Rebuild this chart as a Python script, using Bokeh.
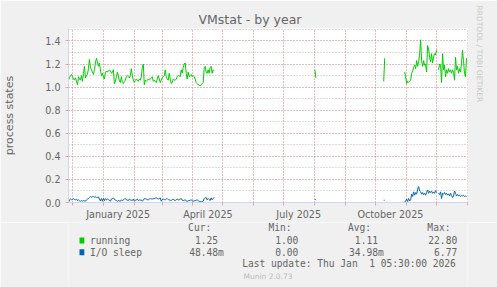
import numpy as np
import pandas as pd
from bokeh.plotting import figure
from bokeh.layouts import column
from bokeh.models import (Range1d, FixedTicker, Grid, SingleIntervalTicker, ColumnDataSource,
                          Title, DatetimeTickFormatter, PrintfTickFormatter)
from bokeh.core.properties import value
from bokeh.embed import file_html
from bokeh.resources import INLINE

nan = None

title = "VMstat - by year"
y_label = "process states"
series_names = ["running", "I/O sleep"]
series_colors = ["#00CC00", "#0066B3"]
end_time = "2026-01-01 05:30"
span_days = 400
x_label_months = ["2025-01-01", "2025-04-01", "2025-07-01", "2025-10-01"]

seg_starts = ["2024-11-27 05:30", "2025-08-01 05:30", "2025-10-09 05:30", "2025-10-30 05:30"]

running_seg1 = [1.06, 1.08, 1.10, 1.11, 1.09, 1.07, 1.06, 1.08, 1.05, 1.02,
                1.09, 1.07, 1.06, 1.10, 1.05, 1.12, 1.18, 1.08, 1.10, 1.11,
                1.16, 1.24, 1.17, 1.15, 1.13, 1.11, 1.15, 1.21, 1.25, 1.22,
                1.18, 1.21, 1.15, 1.10, 1.12, 1.09, 1.07, 1.13, 1.14, 1.13,
                1.14, 1.15, 1.14, 1.12, 1.13, 1.15, 1.03, 1.05, 1.09, 1.13,
                1.10, 1.05, 1.04, 1.09, 1.04, 1.03, 1.05, 1.06, 1.09, 1.10,
                1.09, 1.08, 1.10, 1.16, 1.10, 1.06, 1.04, 1.06, 1.07, 1.06,
                1.05, 1.07, 1.06, 1.09, 1.17, 1.20, 1.02, 1.06, 1.05, 1.06,
                1.07, 1.06, 1.07, 1.08, 1.09, 1.05, 1.06, 1.05, 1.04, 1.07,
                1.10, 1.07, 1.04, 1.06, 1.08, 1.09, 1.10, 1.15, 1.09, 1.07,
                1.06, 1.12, 1.07, 1.03, 1.04, 1.07, 1.06, 1.06, 1.07, 1.09,
                1.10, 1.10, 1.09, 1.15, 1.12, 1.17, 1.20, 1.21, 1.12, 1.07,
                1.13, 1.09, 1.10, 1.11, 1.09, 1.10, 1.09, 1.07, 1.04, 1.03,
                1.02, 1.02, 1.01, 1.02, 1.03, 1.04, 1.16, 1.18, 1.13, 1.12,
                1.15, 1.12, 1.17, 1.18, 1.12, 1.15, 1.14]
running_seg2 = [1.15, 1.08]
running_seg3 = [1.05, 1.25]
running_seg4 = [1.13, 1.09, 1.03, 1.05, 1.04, 1.05, 1.06, 1.12, 1.14, 1.17,
                1.19, 1.16, 1.23, 1.18, 1.22, 1.28, 1.41, 1.23, 1.18, 1.23,
                1.19, 1.20, 1.13, 1.36, 1.33, 1.26, 1.22, 1.29, 1.21, 1.26,
                1.29, 1.28, 1.32, nan, 1.15, 1.20, 1.19, 1.04, 1.29, 1.15,
                1.19, 1.09, 1.15, 1.12, 1.16, 1.13, 1.15, 1.12, 1.15, 1.13,
                1.06, 1.26, 1.15, 1.18, 1.12, 1.16, 1.13, 1.21, 1.32, 1.23,
                1.12, 1.09, 1.25]

io_seg1 = [0.000, 0.023, 0.030, 0.025, 0.023, 0.034, 0.025, 0.023, 0.030, 0.017,
           0.023, 0.015, 0.011, 0.017, 0.011, 0.017, 0.014, 0.011, 0.023, 0.030,
           0.034, 0.043, 0.052, 0.046, 0.050, 0.052, 0.046, 0.049, 0.045, 0.043,
           0.049, 0.030, 0.014, 0.034, 0.011, 0.037, 0.017, 0.034, 0.023, 0.030,
           0.025, 0.020, 0.011, 0.030, 0.034, 0.040, 0.030, 0.020, 0.017, 0.011,
           0.017, 0.014, 0.011, 0.023, 0.017, 0.023, 0.030, 0.034, 0.023, 0.020,
           0.017, 0.030, 0.023, 0.020, 0.017, 0.030, 0.011, 0.020, 0.023, 0.030,
           0.017, 0.023, 0.020, 0.023, 0.011, 0.020, 0.034, 0.032, 0.030, 0.025,
           0.023, 0.030, 0.034, 0.032, 0.030, 0.032, 0.034, 0.037, 0.040, 0.035,
           0.030, 0.035, 0.040, 0.011, 0.025, 0.030, 0.025, 0.023, 0.030, 0.034,
           0.025, 0.023, 0.020, 0.017, 0.025, 0.030, 0.020, 0.017, 0.025, 0.030,
           0.023, 0.023, 0.030, 0.034, 0.020, 0.017, 0.020, 0.023, 0.015, 0.011,
           0.015, 0.017, 0.020, 0.023, 0.015, 0.011, 0.015, 0.017, 0.020, 0.023,
           0.015, 0.011, 0.008, 0.005, 0.008, 0.011, 0.034, 0.040, 0.043, 0.023,
           0.034, 0.025, 0.017, 0.040, 0.023, 0.034, 0.046]
io_seg2 = [0.030, 0.020]
io_seg3 = [0.020, 0.020]
io_seg4 = [0.000, 0.014, 0.029, 0.009, 0.034, 0.014, 0.023, 0.072, 0.052, 0.092,
           0.063, 0.086, 0.072, 0.115, 0.138, 0.100, 0.092, 0.072, 0.086, 0.069,
           0.080, 0.063, 0.086, 0.109, 0.080, 0.098, 0.086, 0.098, 0.080, 0.092,
           0.080, 0.103, 0.086, nan, 0.080, 0.069, 0.092, 0.034, 0.080, 0.072,
           0.086, 0.069, 0.080, 0.063, 0.075, 0.057, 0.080, 0.063, 0.043, 0.057,
           0.100, 0.080, 0.057, 0.069, 0.057, 0.063, 0.052, 0.063, 0.057, 0.063,
           0.052, 0.057, 0.048]

stat_headers = ["Cur:", "Min:", "Avg:", "Max:"]
running_stats = [(1.25, " "), (1.00, " "), (1.11, " "), (22.80, " ")]
io_stats = [(48.48, "m"), (0.00, " "), (34.98, "m"), (6.77, " ")]
last_update = "Last update: Thu Jan  1 05:30:00 2026"
munin_version = "Munin 2.0.73"
watermark = "RRDTOOL / TOBI OETIKER"

# ---------------------------------------------------------------------------
end = pd.Timestamp(end_time)
start = end - pd.Timedelta(days=span_days)
full_idx = pd.date_range(start, periods=span_days + 1, freq="D")


def build(segs):
    s = pd.Series(np.nan, index=full_idx)
    for st, vals in zip(seg_starts, segs):
        idx = pd.date_range(st, periods=len(vals), freq="D")
        s.loc[idx] = np.array(vals, dtype=float)
    return s.values


run = build([running_seg1, running_seg2, running_seg3, running_seg4])
io = build([io_seg1, io_seg2, io_seg3, io_seg4])
src = ColumnDataSource(dict(t=full_idx, run=run, io=io))

FONT = "#666666"
AX = "#CFD6F8"
MG = "#E07070"
GR = "#A0A0A0"
BG = "#F0F0F0"
LEFT, TOP, W, H = 67, 28, 400, 175
MAIN_H = 222

p = figure(width=497, height=MAIN_H, x_axis_type="datetime", output_backend="svg",
           toolbar_location=None, min_border_left=LEFT, min_border_right=497 - LEFT - W,
           min_border_top=TOP, min_border_bottom=MAIN_H - TOP - H,
           background_fill_color="white", border_fill_color=BG,
           outline_line_color=None,
           x_range=Range1d(start, end), y_range=Range1d(0, 1.508))

p.title.text = title
p.title.align = "left"
p.title.offset = 130
p.title.standoff = 3
p.title.text_font = "DejaVu Sans"
p.title.text_font_size = "12.5px"
p.title.text_font_style = "normal"
p.title.text_color = FONT


def ms(ts):
    return pd.Timestamp(ts).value / 1e6


month_ticks = [ms(t) for t in pd.date_range("2024-12-01", end, freq="MS")]
week_ticks = [ms(t) for t in pd.date_range("2024-11-24", end, freq="14D")]
label_ticks = [ms(pd.Timestamp(m) + pd.Timedelta(days=15)) for m in x_label_months]

# minor vertical grid (bi-weekly)
minor_grid = Grid(dimension=0, ticker=FixedTicker(ticks=week_ticks),
                  grid_line_color=GR, grid_line_alpha=0.7, grid_line_dash="1 2")
p.add_layout(minor_grid)
p.xgrid.ticker = FixedTicker(ticks=month_ticks)
p.xgrid.grid_line_color = MG
p.xgrid.grid_line_alpha = 0.55
p.xgrid.grid_line_dash = "1 2"

yt = SingleIntervalTicker(interval=0.2, num_minor_ticks=2)
p.yaxis.ticker = yt
p.ygrid.ticker = yt
p.ygrid.grid_line_color = MG
p.ygrid.grid_line_alpha = 0.55
p.ygrid.grid_line_dash = "1 2"
p.ygrid.minor_grid_line_color = GR
p.ygrid.minor_grid_line_alpha = 0.7
p.ygrid.minor_grid_line_dash = "1 2"

fmt = DatetimeTickFormatter()
for attr in ["microseconds", "milliseconds", "seconds", "minsec", "minutes",
             "hourmin", "hours", "days", "months", "years"]:
    setattr(fmt, attr, "%B %Y")
p.xaxis.ticker = FixedTicker(ticks=label_ticks, minor_ticks=month_ticks)
p.xaxis.formatter = fmt
p.xaxis.major_label_text_font = "DejaVu Sans"
p.xaxis.major_label_text_font_size = "9.6px"
p.xaxis.major_label_text_color = FONT
p.xaxis.major_label_standoff = 3
p.xaxis.major_tick_line_color = None
p.xaxis.major_tick_out = 0
p.xaxis.major_tick_in = 0
p.xaxis.minor_tick_line_color = MG
p.xaxis.minor_tick_line_alpha = 0.6
p.xaxis.minor_tick_out = 3
p.xaxis.minor_tick_in = 0
p.xaxis.axis_line_color = AX

p.yaxis.formatter = PrintfTickFormatter(format="%.1f")
p.yaxis.axis_line_color = AX
p.yaxis.major_tick_line_color = MG
p.yaxis.major_tick_line_alpha = 0.6
p.yaxis.major_tick_out = 3
p.yaxis.major_tick_in = 0
p.yaxis.minor_tick_line_color = None
p.yaxis.major_label_standoff = 4
p.yaxis.major_label_text_font = "DejaVu Sans"
p.yaxis.major_label_text_font_size = "9.6px"
p.yaxis.major_label_text_color = FONT
p.yaxis.axis_label = y_label
p.yaxis.axis_label_text_font = "DejaVu Sans"
p.yaxis.axis_label_text_font_size = "11px"
p.yaxis.axis_label_text_font_style = "normal"
p.yaxis.axis_label_text_color = FONT
p.yaxis.axis_label_standoff = 26

p.add_layout(Title(text=watermark, align="left", offset=-23, standoff=14,
                   text_font="DejaVu Sans", text_font_size="7.5px", text_font_style="normal",
                   text_color="#C8C8C8"), "right")

p.line("t", "run", source=src, line_color=series_colors[0], line_width=1)
p.line("t", "io", source=src, line_color=series_colors[1], line_width=1)

# ---------------------------------------------------------------------------
# legend / statistics strip (pixel coordinates of the whole image)
LEG_H = 287 - MAIN_H
leg = figure(width=497, height=LEG_H, output_backend="svg", toolbar_location=None,
             x_range=Range1d(0, 497), y_range=Range1d(287, MAIN_H),
             min_border=0, x_axis_location=None, y_axis_location=None,
             background_fill_color=BG, border_fill_color=BG, outline_line_color=None)
leg.xgrid.visible = False
leg.ygrid.visible = False

MONO = value("DejaVu Sans Mono")
col_x = [149, 249, 348, 447]
field_x = [143.2, 243.2, 342.3, 441]
rows_y = [240, 251.7]

tx, ty, tt = [], [], []
for h, x in zip(stat_headers, col_x):
    tx.append(x); ty.append(227.3); tt.append(h)
for name, stats, y in zip(series_names, [running_stats, io_stats], rows_y):
    tx.append(26.7); ty.append(y); tt.append(name)
    for (v, unit), x in zip(stats, field_x):
        tx.append(x); ty.append(y); tt.append(("%6.2f%s" % (v, unit)).replace(" ", "\u00a0"))
leg.text(x=tx, y=ty, text=tt, text_font=MONO, text_font_size="9.6px",
         text_color=FONT, text_align="left", text_baseline="middle")
leg.text(x=[482.5], y=[263.3], text=[last_update.replace(" ", "\u00a0")], text_font=MONO,
         text_font_size="9.6px", text_color=FONT, text_align="right", text_baseline="middle")
leg.text(x=[248.5], y=[276.3], text=[munin_version], text_font=value("DejaVu Sans"),
         text_font_size="7.5px", text_color="#BBBBBB", text_align="center", text_baseline="middle")
leg.rect(x=[16.7, 16.7], y=rows_y, width=6, height=6, fill_color=series_colors, line_color=None)

layout = column(p, leg, spacing=0)
open("out.html", "w").write(file_html(layout, INLINE))
